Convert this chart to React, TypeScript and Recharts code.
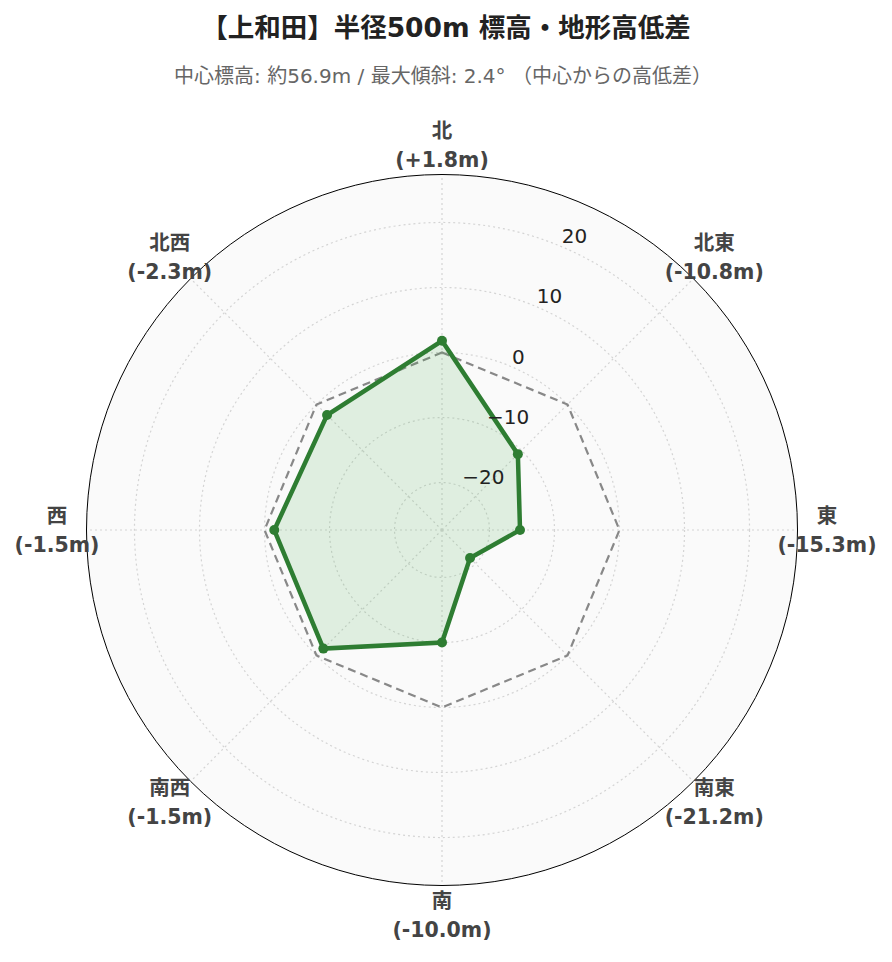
import React from 'react';
import { RadarChart, Radar, PolarGrid, PolarAngleAxis, PolarRadiusAxis } from 'recharts';

// ---- data ----
const directions = ['北', '北東', '東', '南東', '南', '南西', '西', '北西'];
const elevationDiff = [1.8, -10.8, -15.3, -21.2, -10.0, -1.5, -1.5, -2.3];
const referenceLevel = [0, 0, 0, 0, 0, 0, 0, 0];
const radialTicks = [-20, -10, 0, 10, 20];
const radialDomain = [-27.3, 27.3];

const titleText = '【上和田】半径500m 標高・地形高低差';
const subtitleText = '中心標高: 約56.9m / 最大傾斜: 2.4° （中心からの高低差）';

const rows = directions.map((d, i) => ({
  dir: d,
  diff: elevationDiff[i],
  ref: referenceLevel[i],
}));

const W = 892;
const H = 962;
const CX = 442;
const CY = 530;
const R = 355;
const FONT = "'DejaVu Sans', 'Noto Sans CJK JP', sans-serif";

const fmtDiff = (v: number) => `(${v >= 0 ? '+' : ''}${v.toFixed(1)}m)`;
const fmtTick = (v: number) => (v < 0 ? `\u2212${Math.abs(v)}` : `${v}`);

const AngleTick = (props: any) => {
  const { x, y, payload } = props;
  const a = (payload.coordinate * Math.PI) / 180;
  const c = Math.cos(a);
  const s = Math.sin(a);
  const cxL = x + c * 22;
  const cyL = y - s * 22;
  const idx = directions.indexOf(payload.value);
  return (
    <g>
      <text x={cxL} y={cyL - 14.5} textAnchor="middle" dominantBaseline="central"
        fontFamily={FONT} fontWeight="bold" fontSize={20.5} fill="#444">
        {payload.value}
      </text>
      <text x={cxL} y={cyL + 14.5} textAnchor="middle" dominantBaseline="central"
        fontFamily={FONT} fontWeight="bold" fontSize={20.5} fill="#444">
        {fmtDiff(elevationDiff[idx])}
      </text>
    </g>
  );
};

const RadiusTick = (props: any) => {
  const { x, y, payload } = props;
  return (
    <text x={x + 2} y={y - 9.5} textAnchor="start" dominantBaseline="central"
      fontFamily={FONT} fontSize={20} fill="#222">
      {fmtTick(payload.value)}
    </text>
  );
};

export default function App() {
  return (
    <div style={{ position: 'absolute', left: 0, top: 0, width: W, height: H, background: '#fff', fontFamily: FONT }}>
      <div style={{ position: 'absolute', left: 0, top: 9, width: 892, textAlign: 'center', fontSize: 26.5, fontWeight: 'bold', color: '#222', lineHeight: '38px' }}>
        {titleText}
      </div>
      <div style={{ position: 'absolute', left: 0, top: 61, width: 886, textAlign: 'center', fontSize: 20, color: '#666', lineHeight: '30px' }}>
        {subtitleText}
      </div>
      <div style={{ position: 'absolute', left: CX - R - 1, top: CY - R - 1, width: 2 * R + 2, height: 2 * R + 2, borderRadius: '50%', background: '#fafafa', border: '1.5px solid #000', boxSizing: 'border-box' }} />
      <div style={{ position: 'absolute', left: 0, top: 0 }}>
        <RadarChart width={W} height={H} data={rows} cx={CX} cy={CY} outerRadius={R} startAngle={90} endAngle={-270}
          margin={{ top: 0, right: 0, bottom: 0, left: 0 }}>
          <PolarGrid gridType="circle" stroke="#d4d4d4" strokeDasharray="2 3" strokeWidth={1.2} />
          <PolarRadiusAxis angle={67.5} domain={radialDomain} ticks={radialTicks} axisLine={false} tickLine={false}
            tick={<RadiusTick />} />
          <PolarAngleAxis dataKey="dir" axisLine={false} tickLine={false} tick={<AngleTick />} />
          <Radar dataKey="ref" stroke="#888" strokeWidth={2.2} strokeDasharray="8 5" fill="none" fillOpacity={0}
            dot={false} isAnimationActive={false} />
          <Radar dataKey="diff" stroke="#2e7d32" strokeWidth={4.5} fill="#4caf50" fillOpacity={0.15}
            dot={{ r: 5, fill: '#2e7d32', stroke: '#2e7d32', strokeWidth: 0, fillOpacity: 1 }} isAnimationActive={false} />
        </RadarChart>
      </div>
    </div>
  );
}
